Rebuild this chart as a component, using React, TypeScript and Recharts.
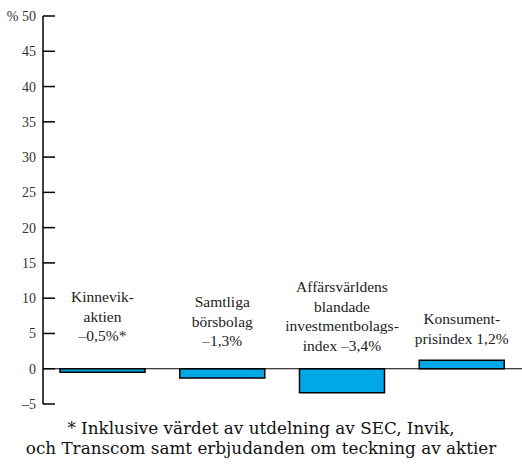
import { BarChart, Bar, XAxis, YAxis, ReferenceLine, LabelList } from "recharts";

const categories = ["Kinnevik", "Samtliga börsbolag", "Affärsvärldens index", "Konsumentprisindex"];
const values = [-0.5, -1.3, -3.4, 1.2];
const labelLines = [
  ["Kinnevik-", "aktien", "–0,5%*"],
  ["Samtliga", "börsbolag", "–1,3%"],
  ["Affärsvärldens", "blandade", "investmentbolags-", "index –3,4%"],
  ["Konsument-", "prisindex 1,2%"],
];
const yTicks = [-5, 0, 5, 10, 15, 20, 25, 30, 35, 40, 45, 50];
const footnote = [
  "* Inklusive värdet av utdelning av SEC, Invik,",
  "och Transcom samt erbjudanden om teckning av aktier",
];

// vertical centre of first label line for each bar (px)
const labelTop = [297, 302, 287, 319];

const data = categories.map((name, i) => ({ name, value: values[i] }));

const serif = "Liberation Serif";

function YTick(props: any) {
  const { x, y, payload } = props;
  const label = payload.value === 50 ? "% 50" : payload.value < 0 ? `–${Math.abs(payload.value)}` : `${payload.value}`;
  return (
    <g>
      <line x1={x} x2={x + 12} y1={y} y2={y} stroke="#000" strokeWidth={1.5} />
      <text x={x - 7} y={y} dy={5} textAnchor="end" style={{ fontFamily: serif, fontSize: 14 }} fill="#333">
        {label}
      </text>
    </g>
  );
}

function BarLabel(props: any) {
  const { x, width, index } = props;
  const cx = x + width / 2;
  const lines = labelLines[index];
  return (
    <text textAnchor="middle" style={{ fontFamily: serif, fontSize: 15.5 }} fill="#222">
      {lines.map((l, i) => (
        <tspan key={i} x={cx} y={labelTop[index] + i * 19.5 + 5}>
          {l}
        </tspan>
      ))}
    </text>
  );
}

export default function App() {
  return (
    <div style={{ position: "absolute", left: 0, top: 0, width: 522, height: 465, background: "#fff" }}>
      <BarChart width={522} height={420} data={data} margin={{ top: 16, right: 0, bottom: 16, left: 0 }}>
        <XAxis dataKey="name" hide />
        <YAxis
          width={43}
          domain={[-5, 50]}
          ticks={yTicks}
          interval={0}
          tickSize={0}
          tickMargin={0}
          tick={<YTick />}
          axisLine={{ stroke: "#000", strokeWidth: 1.5 }}
          tickLine={false}
        />
        <ReferenceLine y={0} stroke="#000" strokeWidth={1.2} />
        <Bar dataKey="value" fill="#00a8e8" stroke="#000" strokeWidth={1.5} barSize={85} isAnimationActive={false}>
          <LabelList dataKey="value" content={<BarLabel />} />
        </Bar>
      </BarChart>
      <div
        style={{
          position: "absolute",
          left: 0,
          top: 418,
          width: 522,
          textAlign: "center",
          fontFamily: "DejaVu Serif",
          fontSize: 16.8,
          lineHeight: "20px",
          color: "#111",
          whiteSpace: "nowrap",
        }}
      >
        {footnote.map((f, i) => (
          <div key={i}>{f}</div>
        ))}
      </div>
    </div>
  );
}
